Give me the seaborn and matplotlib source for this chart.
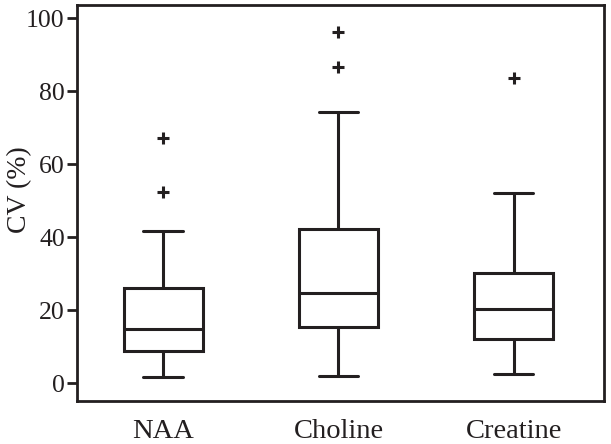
import pandas as pd
import matplotlib
matplotlib.use("Agg")
import matplotlib.pyplot as plt
import seaborn as sns

# Data: each list reproduces the box statistics
# (low whisker, Q1, median, Q3, high whisker, outliers) for 13 points
metabolites = ["NAA", "Choline", "Creatine"]
naa = [1.9, 1.9, 1.9, 8.9, 8.9, 8.9, 14.8, 26.0, 26.0, 26.0, 41.8, 52.3, 67.3]
choline = [2.1, 2.1, 2.1, 15.5, 15.5, 15.5, 24.7, 42.3, 42.3, 42.3, 74.4, 86.5, 96.2]
creatine = [2.5, 2.5, 2.5, 12.3, 12.3, 12.3, 20.4, 30.2, 30.2, 30.2, 52.2, 52.2, 83.7]
y_ticks = [0, 20, 40, 60, 80, 100]

df = pd.DataFrame({
    "metabolite": ["NAA"] * len(naa) + ["Choline"] * len(choline) + ["Creatine"] * len(creatine),
    "cv": naa + choline + creatine,
})

ink = "#231f20"
sns.set_style("ticks")
plt.rcParams["font.family"] = ["Liberation Serif", "DejaVu Serif"]

fig = plt.figure(figsize=(6.11, 4.44), dpi=100)
ax = fig.add_axes([0.1265, 0.0968, 0.862, 0.892])

sns.boxplot(
    data=df, x="metabolite", y="cv", order=metabolites, ax=ax,
    color="white", linecolor=ink, linewidth=2.2, width=0.45,
    flierprops=dict(marker="+", markersize=8, markeredgewidth=2.2,
                    markeredgecolor=ink),
)

ax.set_xlim(-0.49, 2.515)
ax.set_ylim(-4.8, 103.6)
ax.set_yticks(y_ticks)
ax.set_xlabel("")
ax.set_ylabel("CV (%)", fontsize=20, color=ink)
ax.yaxis.set_label_coords(-0.086, 0.533)

ax.tick_params(axis="y", length=7, width=2, color=ink, labelsize=18.5,
               labelcolor=ink, pad=2)
ax.tick_params(axis="x", length=0, labelsize=20.5, labelcolor=ink, pad=13)

for side in ["left", "right", "top", "bottom"]:
    ax.spines[side].set_visible(True)
    ax.spines[side].set_linewidth(2)
    ax.spines[side].set_color(ink)

fig.savefig("out.png", dpi=100)
